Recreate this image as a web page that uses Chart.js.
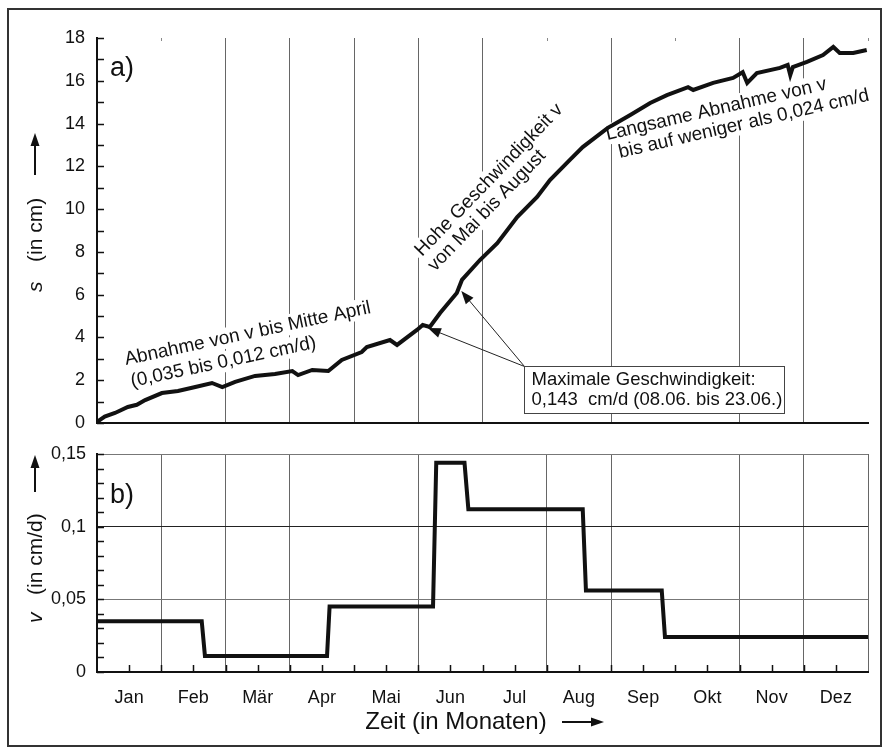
<!DOCTYPE html>
<html>
<head>
<meta charset="utf-8">
<script src="https://cdn.jsdelivr.net/npm/chart.js@4/dist/chart.umd.min.js"></script>
<style>
  body { margin: 0; background: #fff; }
  #wrap { position: relative; width: 885px; height: 749px; }
  #frame { position: absolute; left: 7px; top: 8px; width: 875px; height: 739px; border: 2px solid #333; box-sizing: border-box; }
  canvas { position: absolute; left: 0; top: 0; }
</style>
</head>
<body>
<div id="wrap">
  <div id="frame"></div>
  <canvas id="chartS" width="885" height="749"></canvas>
  <canvas id="chartV" width="885" height="749"></canvas>
</div>
<script>
const FONT = "'Liberation Sans', Arial, sans-serif";

const months = ['Jan', 'Feb', 'Mär', 'Apr', 'Mai', 'Jun', 'Jul', 'Aug', 'Sep', 'Okt', 'Nov', 'Dez'];

// a) path s (cm), x = months since 1 Jan
const sMonth = [0, 0.12, 0.28, 0.48, 0.62, 0.75, 1.01, 1.26, 1.53, 1.79, 1.95, 2.15, 2.46, 2.77, 3.04, 3.13,
  3.35, 3.60, 3.81, 4.12, 4.20, 4.56, 4.67, 4.98, 5.07, 5.18, 5.34, 5.60, 5.68, 5.96, 6.23, 6.54, 6.85, 7.05,
  7.36, 7.56, 7.95, 8.03, 8.30, 8.61, 8.87, 9.20, 9.28, 9.59, 9.90, 10.05, 10.12, 10.27, 10.63, 10.75, 10.79,
  10.83, 11.05, 11.30, 11.46, 11.56, 11.77, 11.98];
const sValue = [0.05, 0.30, 0.47, 0.75, 0.85, 1.07, 1.40, 1.50, 1.68, 1.87, 1.68, 1.92, 2.20, 2.29, 2.43, 2.24,
  2.48, 2.43, 2.95, 3.32, 3.55, 3.88, 3.65, 4.35, 4.58, 4.49, 5.14, 6.08, 6.69, 7.62, 8.41, 9.63, 10.57, 11.36,
  12.30, 12.90, 13.80, 13.93, 14.40, 14.96, 15.33, 15.70, 15.57, 15.90, 16.13, 16.40, 15.90, 16.36, 16.60, 16.74, 16.27,
  16.64, 16.88, 17.20, 17.58, 17.30, 17.30, 17.44];

// b) velocity v (cm/d)
const vMonth = [0, 1.63, 1.68, 3.58, 3.62, 5.23, 5.28, 5.72, 5.78, 7.56, 7.61, 8.79, 8.84, 12];
const vValue = [0.035, 0.035, 0.011, 0.011, 0.045, 0.045, 0.144, 0.144, 0.112, 0.112, 0.056, 0.056, 0.024, 0.024];

const sTicks = [0, 1, 2, 3, 4, 5, 6, 7, 8, 9, 10, 11, 12, 13, 14, 15, 16, 17, 18];
const vTicks = [0, 0.01, 0.02, 0.03, 0.04, 0.05, 0.06, 0.07, 0.08, 0.09, 0.1, 0.11, 0.12, 0.13, 0.14, 0.15];
const vTickLabels = ['0', '0,05', '0,1', '0,15'];

// which month boundaries get a vertical line in each panel
const gridA = [2, 3, 4, 5, 6, 8, 10, 11];
const gridB = [1, 2, 3, 5, 7, 8, 10, 11, 12];

function drawArrow(ctx, x1, y1, x2, y2, head, half) {
  const ang = Math.atan2(y2 - y1, x2 - x1);
  ctx.beginPath();
  ctx.moveTo(x1, y1);
  ctx.lineTo(x2 - Math.cos(ang) * head * 0.8, y2 - Math.sin(ang) * head * 0.8);
  ctx.stroke();
  ctx.beginPath();
  ctx.moveTo(x2, y2);
  ctx.lineTo(x2 - Math.cos(ang) * head + Math.sin(ang) * half, y2 - Math.sin(ang) * head - Math.cos(ang) * half);
  ctx.lineTo(x2 - Math.cos(ang) * head - Math.sin(ang) * half, y2 - Math.sin(ang) * head + Math.cos(ang) * half);
  ctx.closePath();
  ctx.fill();
}

function yTitle(ctx, x, yStart, sym, rest, offset) {
  ctx.save();
  ctx.translate(x, yStart);
  ctx.rotate(-Math.PI / 2);
  ctx.fillStyle = '#111';
  ctx.textAlign = 'left';
  ctx.textBaseline = 'alphabetic';
  ctx.font = 'italic 21px ' + FONT;
  ctx.fillText(sym, 0, 0);
  ctx.font = '21px ' + FONT;
  ctx.fillText(rest, offset, 0);
  ctx.restore();
}

// tick marks pointing into the plot
const innerTicks = {
  id: 'innerTicks',
  afterDatasetsDraw(chart, args, opts) {
    const { ctx, chartArea: a, scales } = chart;
    ctx.save();
    ctx.strokeStyle = '#111';
    ctx.lineWidth = 1.5;
    ctx.beginPath();
    (opts.y || []).forEach(v => {
      const y = Math.round(scales.y.getPixelForValue(v)) + 0.5;
      ctx.moveTo(a.left, y);
      ctx.lineTo(a.left + 7, y);
    });
    (opts.x || []).forEach(v => {
      const x = Math.round(scales.x.getPixelForValue(v)) + 0.5;
      ctx.moveTo(x, a.bottom);
      ctx.lineTo(x, a.bottom - 7);
    });
    ctx.stroke();
    ctx.restore();
  }
};

const notes = [
  { text: 'Abnahme von v bis Mitte April', m: 0.45, s: 2.71, deg: -12 },
  { text: '(0,035 bis 0,012 cm/d)', m: 0.545, s: 1.68, deg: -12 },
  { text: 'Hohe Geschwindigkeit v', m: 5.06, s: 7.76, deg: -46 },
  { text: 'von Mai bis August', m: 5.26, s: 7.06, deg: -46 },
  { text: 'Langsame Abnahme von v', m: 7.94, s: 13.23, deg: -13 },
  { text: 'bis auf weniger als 0,024 cm/d', m: 8.14, s: 12.39, deg: -13 }
];

const panelA = {
  id: 'panelA',
  beforeDatasetsDraw(chart) {
    const { ctx, chartArea: a, scales: { x, y } } = chart;
    ctx.save();
    // little marks on top where the line is left out
    ctx.strokeStyle = '#888';
    ctx.lineWidth = 1;
    ctx.beginPath();
    [1, 7, 9, 12].forEach(m => {
      const px = Math.round(x.getPixelForValue(m)) + 0.5;
      ctx.moveTo(px, a.top);
      ctx.lineTo(px, a.top + 3);
    });
    ctx.stroke();

    ctx.font = '19px ' + FONT;
    ctx.textBaseline = 'alphabetic';
    // white backing first, then text
    notes.forEach(n => {
      const w = ctx.measureText(n.text).width;
      ctx.save();
      ctx.translate(x.getPixelForValue(n.m), y.getPixelForValue(n.s));
      ctx.rotate(n.deg * Math.PI / 180);
      ctx.fillStyle = '#fff';
      ctx.fillRect(-3, -16, w + 6, 21);
      ctx.restore();
    });
    notes.forEach(n => {
      ctx.save();
      ctx.translate(x.getPixelForValue(n.m), y.getPixelForValue(n.s));
      ctx.rotate(n.deg * Math.PI / 180);
      ctx.fillStyle = '#111';
      ctx.fillText(n.text, 0, 0);
      ctx.restore();
    });
    ctx.restore();
  },
  afterDraw(chart) {
    const { ctx, chartArea: a, scales: { x, y } } = chart;
    ctx.save();
    // box with the maximum
    const bx = Math.round(x.getPixelForValue(6.65)) + 0.5;
    const by = Math.round(y.getPixelForValue(2.66)) + 0.5;
    const bx2 = Math.round(x.getPixelForValue(10.69)) + 0.5;
    const by2 = Math.round(y.getPixelForValue(0.47)) + 0.5;
    ctx.fillStyle = '#111';
    ctx.strokeStyle = '#222';
    ctx.lineWidth = 1;
    drawArrow(ctx, bx, by, x.getPixelForValue(5.15), y.getPixelForValue(4.44), 13, 5);
    drawArrow(ctx, bx, by, x.getPixelForValue(5.67), y.getPixelForValue(6.17), 13, 5);
    ctx.fillStyle = '#fff';
    ctx.fillRect(bx, by, bx2 - bx, by2 - by);
    ctx.strokeStyle = '#444';
    ctx.strokeRect(bx, by, bx2 - bx, by2 - by);
    ctx.fillStyle = '#111';
    ctx.font = '18.5px ' + FONT;
    ctx.textAlign = 'left';
    ctx.textBaseline = 'alphabetic';
    ctx.fillText('Maximale Geschwindigkeit:', bx + 7, by + 18);
    ctx.fillText('0,143  cm/d (08.06. bis 23.06.)', bx + 7, by + 38);

    // panel letter
    ctx.font = '27px ' + FONT;
    ctx.fillText('a)', a.left + 13, a.top + 38);

    // y title with arrow
    yTitle(ctx, 42, 292, 's', '(in cm)', 30);
    ctx.strokeStyle = '#111';
    ctx.lineWidth = 2;
    drawArrow(ctx, 35, 175, 35, 133, 13, 4.5);
    ctx.restore();
  }
};

const panelB = {
  id: 'panelB',
  afterDraw(chart) {
    const { ctx, chartArea: a } = chart;
    ctx.save();
    ctx.fillStyle = '#111';
    ctx.font = '27px ' + FONT;
    ctx.textAlign = 'left';
    ctx.textBaseline = 'alphabetic';
    ctx.fillText('b)', a.left + 13, a.top + 49);

    yTitle(ctx, 42, 623, 'v', '(in cm/d)', 28);
    ctx.strokeStyle = '#111';
    ctx.lineWidth = 2;
    drawArrow(ctx, 35, 492, 35, 455, 13, 4.5);

    ctx.font = '24px ' + FONT;
    ctx.textAlign = 'center';
    ctx.fillText('Zeit (in Monaten)', 456, 729);
    drawArrow(ctx, 562, 722, 604, 722, 13, 4.5);
    ctx.restore();
  }
};

new Chart(document.getElementById('chartS'), {
  type: 'line',
  data: {
    datasets: [{
      data: sMonth.map((m, i) => ({ x: m, y: sValue[i] })),
      borderColor: '#111',
      borderWidth: 4,
      pointRadius: 0,
      tension: 0,
      fill: false
    }]
  },
  options: {
    responsive: false,
    animation: false,
    events: [],
    layout: { padding: { left: 0, right: 17, top: 38, bottom: 326 } },
    plugins: {
      legend: { display: false },
      tooltip: { enabled: false },
      innerTicks: { y: sTicks }
    },
    scales: {
      x: {
        type: 'linear',
        min: 0,
        max: 12,
        afterBuildTicks: s => { s.ticks = months.map((m, i) => ({ value: i })).concat([{ value: 12 }]); },
        afterFit: s => { s.height = 0; },
        ticks: { display: false },
        grid: {
          drawTicks: false,
          lineWidth: 1,
          color: c => gridA.includes(c.tick.value) ? '#666' : 'rgba(0,0,0,0)'
        },
        border: { color: '#111', width: 2 }
      },
      y: {
        min: 0,
        max: 18,
        afterBuildTicks: s => { s.ticks = sTicks.map(v => ({ value: v })); },
        afterFit: s => { s.width = 97; },
        ticks: {
          padding: 12,
          color: '#111',
          font: { family: FONT, size: 18 },
          callback: v => v % 2 === 0 ? String(v) : ''
        },
        grid: { drawOnChartArea: false, drawTicks: false },
        border: { color: '#111', width: 2 }
      }
    }
  },
  plugins: [innerTicks, panelA]
});

new Chart(document.getElementById('chartV'), {
  type: 'line',
  data: {
    datasets: [{
      data: vMonth.map((m, i) => ({ x: m, y: vValue[i] })),
      borderColor: '#111',
      borderWidth: 4,
      pointRadius: 0,
      tension: 0,
      fill: false
    }]
  },
  options: {
    responsive: false,
    animation: false,
    events: [],
    layout: { padding: { left: 0, right: 17, top: 454, bottom: 37 } },
    plugins: {
      legend: { display: false },
      tooltip: { enabled: false },
      innerTicks: {
        y: vTicks,
        x: [0.5, 1, 1.5, 2, 2.5, 3, 3.5, 4, 4.5, 5, 5.5, 6, 6.5, 7, 7.5, 8, 8.5, 9, 9.5, 10, 10.5, 11, 11.5]
      }
    },
    scales: {
      x: {
        type: 'linear',
        min: 0,
        max: 12,
        afterBuildTicks: s => {
          const t = [];
          for (let i = 0; i <= 24; i++) t.push({ value: i / 2 });
          s.ticks = t;
        },
        afterFit: s => { s.height = 40; },
        ticks: {
          padding: 15,
          autoSkip: false,
          maxRotation: 0,
          minRotation: 0,
          color: '#111',
          font: { family: FONT, size: 18 },
          callback: (v, i) => i % 2 === 1 ? months[(i - 1) / 2] : ''
        },
        grid: {
          drawTicks: false,
          lineWidth: 1,
          color: c => gridB.includes(c.tick.value) ? '#666' : 'rgba(0,0,0,0)'
        },
        border: { color: '#111', width: 2 }
      },
      y: {
        min: 0,
        max: 0.15,
        afterBuildTicks: s => { s.ticks = vTicks.map(v => ({ value: v })); },
        afterFit: s => { s.width = 97; },
        ticks: {
          padding: 11,
          autoSkip: false,
          color: '#111',
          font: { family: FONT, size: 18 },
          callback: (v, i) => i % 5 === 0 ? vTickLabels[i / 5] : ''
        },
        grid: {
          drawTicks: false,
          lineWidth: 1,
          color: c => c.index === 10 ? '#222' : (c.index === 5 || c.index === 15) ? '#777' : 'rgba(0,0,0,0)'
        },
        border: { color: '#111', width: 2 }
      }
    }
  },
  plugins: [innerTicks, panelB]
});
</script>
</body>
</html>
